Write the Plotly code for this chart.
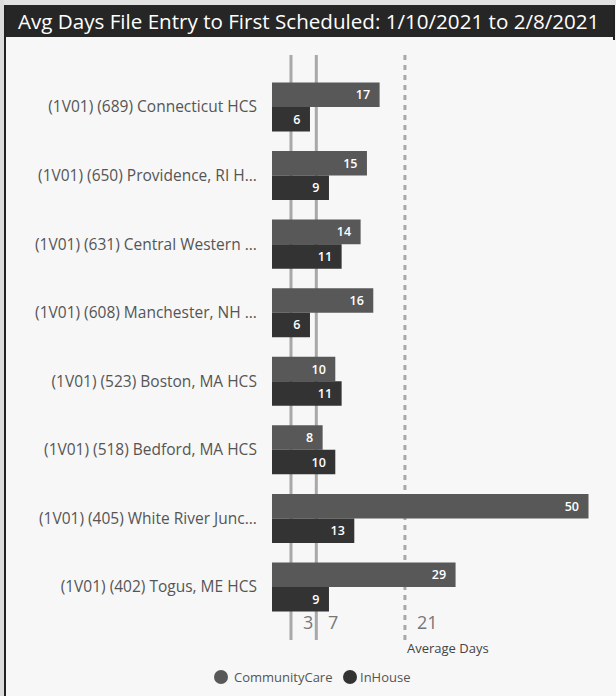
import plotly.graph_objects as go

categories = [
    "(1V01) (689) Connecticut HCS",
    "(1V01) (650) Providence, RI H...",
    "(1V01) (631) Central Western ...",
    "(1V01) (608) Manchester, NH ...",
    "(1V01) (523) Boston, MA HCS",
    "(1V01) (518) Bedford, MA HCS",
    "(1V01) (405) White River Junc...",
    "(1V01) (402) Togus, ME HCS",
]
community_care = [17, 15, 14, 16, 10, 8, 50, 29]
in_house = [6, 9, 11, 6, 11, 10, 13, 9]
ref_lines = [3, 7]
avg_days = 21
title_text = "Avg Days File Entry to First Scheduled: 1/10/2021 to 2/8/2021"
legend_names = ["CommunityCare", "InHouse"]

CC_COLOR = "#585858"
IH_COLOR = "#333333"
FONT = "Open Sans"

W, H = 616, 696
L, R, T, B = 272, 6, 55, 56
pw, ph = W - L - R, H - T - B

def px(xp):
    return (xp - L) / pw

def py(yp):
    return 1 - (yp - T) / ph

fig = go.Figure()
fig.add_trace(go.Bar(
    y=categories, x=community_care, orientation="h", name=legend_names[0],
    marker=dict(color=CC_COLOR, line=dict(width=0)),
    texttemplate="%{x}\u00a0\u00a0", textposition="inside", insidetextanchor="end",
    textfont=dict(color="white", size=12.5, family=FONT, weight=600), showlegend=False,
    constraintext="none",
))
fig.add_trace(go.Bar(
    y=categories, x=in_house, orientation="h", name=legend_names[1],
    marker=dict(color=IH_COLOR, line=dict(width=0)),
    texttemplate="%{x}\u00a0\u00a0", textposition="inside", insidetextanchor="end",
    textfont=dict(color="white", size=12.5, family=FONT, weight=600), showlegend=False,
    constraintext="none",
))

shapes = []
for v in ref_lines:
    shapes.append(dict(type="line", xref="x", yref="paper", x0=v, x1=v, y0=0, y1=1,
                       line=dict(color="#a8a8a8", width=3), layer="below"))
shapes.append(dict(type="line", xref="x", yref="paper", x0=avg_days, x1=avg_days, y0=0, y1=1,
                   line=dict(color="#a8a8a8", width=3, dash="5px,5px"), layer="below"))
# page frame
shapes.append(dict(type="rect", xref="paper", yref="paper", x0=px(0), x1=px(W), y0=py(0), y1=py(5),
                   fillcolor="#e2e2e2", line=dict(width=0), layer="below"))
shapes.append(dict(type="rect", xref="paper", yref="paper", x0=px(4), x1=px(614), y0=py(5), y1=py(37),
                   fillcolor="#262626", line=dict(width=0), layer="above"))
shapes.append(dict(type="rect", xref="paper", yref="paper", x0=px(0), x1=px(4), y0=py(0), y1=py(H),
                   fillcolor="#dcdcdc", line=dict(width=0), layer="below"))
shapes.append(dict(type="line", xref="paper", yref="paper", x0=px(5), x1=px(5), y0=py(5), y1=py(H),
                   line=dict(color="#222222", width=2), layer="above"))
shapes.append(dict(type="line", xref="paper", yref="paper", x0=px(614), x1=px(614), y0=py(5), y1=py(40),
                   line=dict(color="#222222", width=2), layer="above"))

# legend markers (circles)
legend_pos = [(221, 232, CC_COLOR), (350, 358, IH_COLOR)]
for (cx, _, col) in legend_pos:
    shapes.append(dict(type="circle", xref="paper", yref="paper",
                       x0=px(cx - 7), x1=px(cx + 7), y0=py(677 + 7), y1=py(677 - 7),
                       fillcolor=col, line=dict(width=0), layer="above"))

annotations = [
    dict(text=title_text, xref="paper", yref="paper", x=px(16), y=py(21), xanchor="left", yanchor="middle",
         showarrow=False, font=dict(color="white", size=20.6, family=FONT)),
]
for v in ref_lines + [avg_days]:
    annotations.append(dict(text=str(v), xref="x", yref="paper", x=v, y=py(622), xanchor="left",
                            yanchor="middle", xshift=10, showarrow=False,
                            font=dict(color="#777777", size=18, family=FONT)))
annotations.append(dict(text="Average Days", xref="x", yref="paper", x=avg_days, y=py(648),
                        xanchor="left", yanchor="middle", showarrow=False,
                        font=dict(color="#444444", size=13, family=FONT)))
for (name, (_, tx, _)) in zip(legend_names, legend_pos):
    annotations.append(dict(text=name, xref="paper", yref="paper", x=px(tx), y=py(677),
                            xanchor="left", yanchor="middle", showarrow=False,
                            font=dict(color="#555555", size=13, family=FONT)))

fig.update_layout(
    width=W, height=H,
    margin=dict(l=L, r=R, t=T, b=B, pad=0),
    paper_bgcolor="#f7f7f7", plot_bgcolor="#f7f7f7",
    barmode="group", bargap=0.285, bargroupgap=0,
    showlegend=False,
    xaxis=dict(range=[0, pw / 6.33], visible=False, showgrid=False, zeroline=False),
    yaxis=dict(range=[7.773, -0.758], showgrid=False, zeroline=False, showline=False,
               ticks="outside", ticklen=11, tickcolor="rgba(0,0,0,0)",
               tickfont=dict(color="#555555", size=15.5, family=FONT)),
    shapes=shapes, annotations=annotations,
    font=dict(family=FONT),
)

fig.write_html("out.html", config={"displayModeBar": False},
               post_script="document.body.style.margin='0';document.body.style.padding='0';")
